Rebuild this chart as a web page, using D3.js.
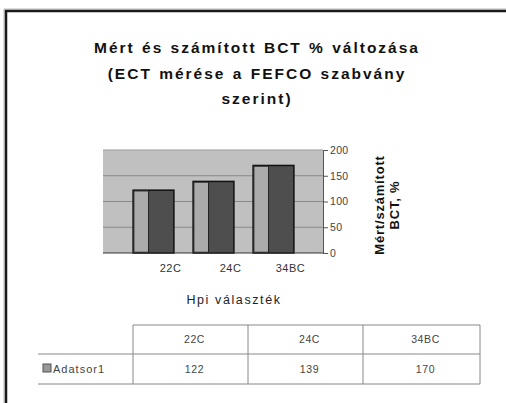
<!DOCTYPE html>
<html><head><meta charset="utf-8">
<script src="https://cdn.jsdelivr.net/npm/d3@7"></script>
<style>body{margin:0;background:#fff}svg{display:block}</style>
</head><body>
<svg id="c" width="506" height="403"></svg>
<script>
const titleLines = ["Mért és számított BCT % változása", "(ECT mérése a FEFCO szabvány", "szerint)"];
const categories = ["22C", "24C", "34BC"];
const values = [122, 139, 170];
const seriesName = "Adatsor1";
const yTicks = [0, 50, 100, 150, 200];
const xTitle = "Hpi választék";
const yTitle = ["Mért/számított", "BCT, %"];

const svg = d3.select("#c");
const font = "'Liberation Sans', Arial, sans-serif";

// frame
svg.append("path").attr("d","M4,403V9H506").attr("fill","none").attr("stroke","#b8b8b8").attr("stroke-width",1);
svg.append("path").attr("d","M6,403V11H506").attr("fill","none").attr("stroke","#1a1a1a").attr("stroke-width",2.5);

// title
svg.append("g").selectAll("text").data(titleLines).join("text")
  .attr("x", 257).attr("y", (d,i)=>53 + i*25.5)
  .attr("text-anchor","middle").attr("font-family",font).attr("font-weight","bold")
  .attr("font-size",15.5).attr("letter-spacing",2).attr("word-spacing",1).attr("fill","#111").text(d=>d);

// plot
const pl = 103, pr = 323, pt = 150, pb = 253;
const y = d3.scaleLinear().domain([0,200]).range([pb,pt]);
const x = d3.scaleBand().domain(categories).range([123.5, 303.5]).paddingInner(0.32).paddingOuter(0.16);

svg.append("rect").attr("x",pl).attr("y",pt).attr("width",pr-pl).attr("height",pb-pt).attr("fill","#c0c0c0");
svg.append("g").selectAll("line").data(yTicks.filter(t=>t>0 && t<200)).join("line")
  .attr("x1",pl).attr("x2",pr).attr("y1",d=>y(d)).attr("y2",d=>y(d))
  .attr("stroke","#8a8a8a").attr("stroke-width",1);
svg.append("line").attr("x1",pl).attr("x2",pr).attr("y1",pt).attr("y2",pt).attr("stroke","#9a9a9a");

// bars
const bars = svg.append("g").selectAll("g").data(values).join("g");
bars.append("rect").attr("x",(d,i)=>x(categories[i])).attr("y",d=>y(d))
  .attr("width",x.bandwidth()).attr("height",d=>pb-y(d))
  .attr("fill","#4e4e4e").attr("stroke","#111").attr("stroke-width",1.5);
bars.append("rect").attr("x",(d,i)=>x(categories[i])+0.75).attr("y",d=>y(d)+0.75)
  .attr("width",x.bandwidth()*0.36).attr("height",d=>pb-y(d)-1.5)
  .attr("fill","#ababab").attr("stroke","#222").attr("stroke-width",1);
svg.append("line").attr("x1",pl).attr("x2",pr).attr("y1",pb).attr("y2",pb).attr("stroke","#333");

// right axis
const ax = svg.append("g").attr("transform",`translate(${pr},0)`)
  .call(d3.axisRight(y).tickValues(yTicks).tickSize(5).tickPadding(2));
ax.select(".domain").attr("stroke","#555");
ax.selectAll(".tick line").attr("stroke","#555");
ax.selectAll("text").attr("font-family",font).attr("font-size",10.5).attr("letter-spacing",0.3).attr("fill","#444");

// category labels
svg.append("g").selectAll("text").data(categories).join("text")
  .attr("x",d=>x(d)+x.bandwidth()/2+17).attr("y",272)
  .attr("text-anchor","middle").attr("font-family",font).attr("font-size",11)
  .attr("letter-spacing",0.5).attr("fill","#333").text(d=>d);

// x title
svg.append("text").attr("x",234).attr("y",304).attr("text-anchor","middle")
  .attr("font-family",font).attr("font-size",12.5).attr("letter-spacing",1.6).attr("fill","#222").text(xTitle);

// y title
svg.append("g").attr("transform","translate(387,205) rotate(-90)")
  .selectAll("text").data(yTitle).join("text")
  .attr("x",0).attr("y",(d,i)=>-3 + i*15).attr("text-anchor","middle")
  .attr("font-family",font).attr("font-weight","bold").attr("font-size",13)
  .attr("letter-spacing",0.8).attr("fill","#111").text(d=>d);

// data table
const cols = [133, 248, 363, 480];
const tTop = 325, tMid = 354, tBot = 384, tLeft = 38;
const tg = svg.append("g").attr("stroke","#888").attr("stroke-width",1).attr("fill","none");
tg.append("line").attr("x1",cols[0]).attr("x2",cols[3]).attr("y1",tTop).attr("y2",tTop);
tg.append("line").attr("x1",tLeft).attr("x2",cols[3]).attr("y1",tMid).attr("y2",tMid);
tg.append("line").attr("x1",tLeft).attr("x2",cols[3]).attr("y1",tBot).attr("y2",tBot);
tg.selectAll(".v").data(cols).join("line").attr("x1",d=>d).attr("x2",d=>d).attr("y1",tTop).attr("y2",tBot);

svg.append("g").selectAll("text").data(categories).join("text")
  .attr("x",(d,i)=>(cols[i]+cols[i+1])/2+4).attr("y",tTop+18).attr("text-anchor","middle")
  .attr("font-family",font).attr("font-size",10.5).attr("letter-spacing",0.6).attr("fill","#444").text(d=>d);
svg.append("g").selectAll("text").data(values).join("text")
  .attr("x",(d,i)=>(cols[i]+cols[i+1])/2+4).attr("y",tMid+19).attr("text-anchor","middle")
  .attr("font-family",font).attr("font-size",10.5).attr("letter-spacing",0.6).attr("fill","#444").text(d=>d);
svg.append("rect").attr("x",43).attr("y",364).attr("width",8).attr("height",8)
  .attr("fill","#999").attr("stroke","#555");
svg.append("text").attr("x",53).attr("y",373).attr("font-family",font).attr("font-size",11)
  .attr("letter-spacing",1).attr("fill","#444").text(seriesName);
</script>
</body></html>
